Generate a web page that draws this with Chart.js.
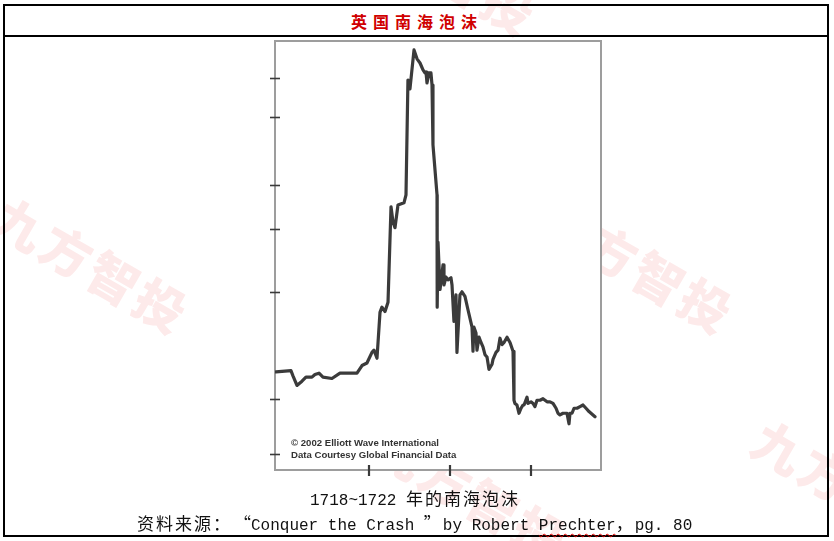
<!DOCTYPE html>
<html><head><meta charset="utf-8">
<script src="https://cdn.jsdelivr.net/npm/chart.js@4/dist/chart.umd.min.js"></script>
<style>
html,body{margin:0;padding:0;background:#fff;}
body{width:834px;height:541px;position:relative;overflow:hidden;font-family:"Noto Sans CJK SC",sans-serif;}
.wm{position:absolute;transform-origin:0 0;transform:rotate(30deg);font-family:"Noto Sans CJK SC";font-weight:900;font-size:50px;line-height:50px;letter-spacing:4px;color:#fdeaea;white-space:nowrap;}
.frame{position:absolute;left:3px;top:4px;width:822px;height:529px;border:2px solid #000;}
.sep{position:absolute;left:3px;top:35px;width:826px;height:2px;background:#000;}
#title{position:absolute;left:0;width:834px;top:9px;text-align:center;color:#d00000;font-weight:bold;font-size:16px;letter-spacing:6px;line-height:24px;white-space:nowrap;}
#plot{position:absolute;left:265px;top:36px;width:346px;height:445px;}
.credit{position:absolute;left:291px;font-family:"Liberation Sans",Arial,sans-serif;font-weight:bold;font-size:9.6px;line-height:12px;color:#333;white-space:nowrap;}
.cap{position:absolute;white-space:nowrap;line-height:22px;color:#111;}
.m{font-family:"Liberation Mono",monospace;font-size:16px;}
.c{font-family:"Noto Sans CJK SC";font-size:17px;letter-spacing:2px;}
.q{display:inline-block;width:19px;font-family:"Noto Sans CJK SC";font-size:17px;}
.wavy{text-decoration:underline wavy #e00000;text-decoration-thickness:1px;text-underline-offset:3px;}
</style></head>
<body>
<div class="wm" style="left:12px;top:188px;">九方智投</div>
<div class="wm" style="left:557px;top:188px;">九方智投</div>
<div class="wm" style="left:360px;top:-110px;">九方智投</div>
<div class="wm" style="left:771px;top:411px;">九方智投</div>
<div class="wm" style="left:391px;top:416px;">九方智投</div>

<div class="frame"></div>
<div class="sep"></div>
<div id="title">英国南海泡沫</div>

<div id="plot"><canvas id="c" width="346" height="445"></canvas></div>
<div class="credit" id="cr1" style="top:437px;"></div>
<div class="credit" id="cr2" style="top:449px;"></div>

<div class="cap" style="left:310px;top:487px;"><span class="m">1718~1722 </span><span class="c">年的南海泡沫</span></div>
<div class="cap" style="left:137px;top:512px;"><span class="c">资料来源：</span><span class="q" style="text-align:right;">“</span><span class="m">Conquer the Crash </span><span class="q" style="text-align:left;">”</span><span class="m">by Robert <span class="wavy">Prechter</span></span><span class="c">，</span><span class="m">pg. 80</span></div>

<script>
// decimal-year dates and share prices (log-scale axis)
const dates = [1718.852,1719.037,1719.062,1719.111,1719.173,1719.222,1719.296,1719.333,1719.383,1719.432,1719.543,1719.642,1719.765,1719.852,1719.914,1719.975,
1720.037,1720.062,1720.099,1720.136,1720.160,1720.198,1720.235,1720.272,1720.296,1720.321,1720.358,1720.432,1720.457,1720.481,1720.506,1720.556,1720.593,1720.630,1720.667,1720.691,1720.704,1720.716,1720.741,1720.765,1720.778,1720.790,1720.840,1720.842,1720.852,1720.877,1720.914,1720.926,1720.951,1720.975,
1721.012,1721.025,1721.049,1721.074,1721.086,1721.123,1721.148,1721.185,1721.222,1721.272,1721.284,1721.296,1721.321,1721.333,1721.358,1721.383,1721.407,1721.432,1721.457,1721.481,1721.519,1721.531,1721.568,1721.593,1721.617,1721.642,1721.667,1721.704,1721.741,1721.778,1721.790,1721.802,1721.827,1721.852,1721.877,1721.901,1721.914,1721.951,1721.963,
1722.000,1722.025,1722.049,1722.074,1722.111,1722.148,1722.198,1722.235,1722.272,1722.309,1722.333,1722.358,1722.395,1722.444,1722.469,1722.481,1722.506,1722.531,1722.568,1722.605,1722.642,1722.679,1722.716,1722.790];
const prices = [119,120,116,109,112,115,115,117,118,115,114,118,118,118,124,126,
135,137,130,175,181,176,187,347,315,303,351,356,375,789,745,959,905,881,842,826,831,774,826,826,764,518,375,181,276,203,238,209,220,216,
219,209,165,196,135,196,200,194,178,159,136,159,153,137,149,144,140,133,131,121,125,129,135,137,148,142,144,149,144,136,99,97,96,91,94,96,96,101,97,
98,97,95,99,99,100,98,98,97,94,91,90,91,91,85,91,91,94,94,95,96,94,92,89];
const yTickValues = [70,100,200,300,400,620,800];
const xTickValues = [1720,1721,1722];
const creditLines = ['© 2002 Elliott Wave International','Data Courtesy Global Financial Data'];

document.getElementById('cr1').textContent = creditLines[0];
document.getElementById('cr2').textContent = creditLines[1];

const framePlugin = {
  id:'frame',
  beforeDatasetsDraw(chart){
    const {ctx, chartArea:a} = chart;
    ctx.save();
    ctx.fillStyle='#fff';
    ctx.fillRect(a.left,a.top,a.right-a.left,a.bottom-a.top);
    ctx.strokeStyle='#9d9d9d';
    ctx.lineWidth=2;
    ctx.strokeRect(a.left,a.top,a.right-a.left,a.bottom-a.top);
    ctx.restore();
  },
  afterDatasetsDraw(chart){
    const {ctx, chartArea:a, scales} = chart;
    ctx.save();
    ctx.strokeStyle='#3a3a3a';
    ctx.lineWidth=1.6;
    yTickValues.forEach(v=>{
      const y = Math.round(scales.y.getPixelForValue(v))+0.5;
      ctx.beginPath(); ctx.moveTo(a.left-5,y); ctx.lineTo(a.left+5,y); ctx.stroke();
    });
    ctx.lineWidth=2.2;
    xTickValues.forEach(v=>{
      const x = Math.round(scales.x.getPixelForValue(v));
      ctx.beginPath(); ctx.moveTo(x,a.bottom-5); ctx.lineTo(x,a.bottom+6); ctx.stroke();
    });
    ctx.restore();
  }
};

new Chart(document.getElementById('c'), {
  type:'line',
  data:{datasets:[{
    data: dates.map((d,i)=>({x:d,y:prices[i]})),
    borderColor:'#3b3b3b', borderWidth:3.2, pointRadius:0, tension:0,
    borderJoinStyle:'round', borderCapStyle:'round', fill:false
  }]},
  options:{
    responsive:false, animation:false,
    layout:{padding:{left:10,right:10,top:5,bottom:11}},
    plugins:{legend:{display:false},tooltip:{enabled:false}},
    scales:{
      x:{type:'linear',min:1718.84,max:1722.864,display:false},
      y:{type:'logarithmic',min:63,max:1016,display:false}
    }
  },
  plugins:[framePlugin]
});
</script>
</body></html>
